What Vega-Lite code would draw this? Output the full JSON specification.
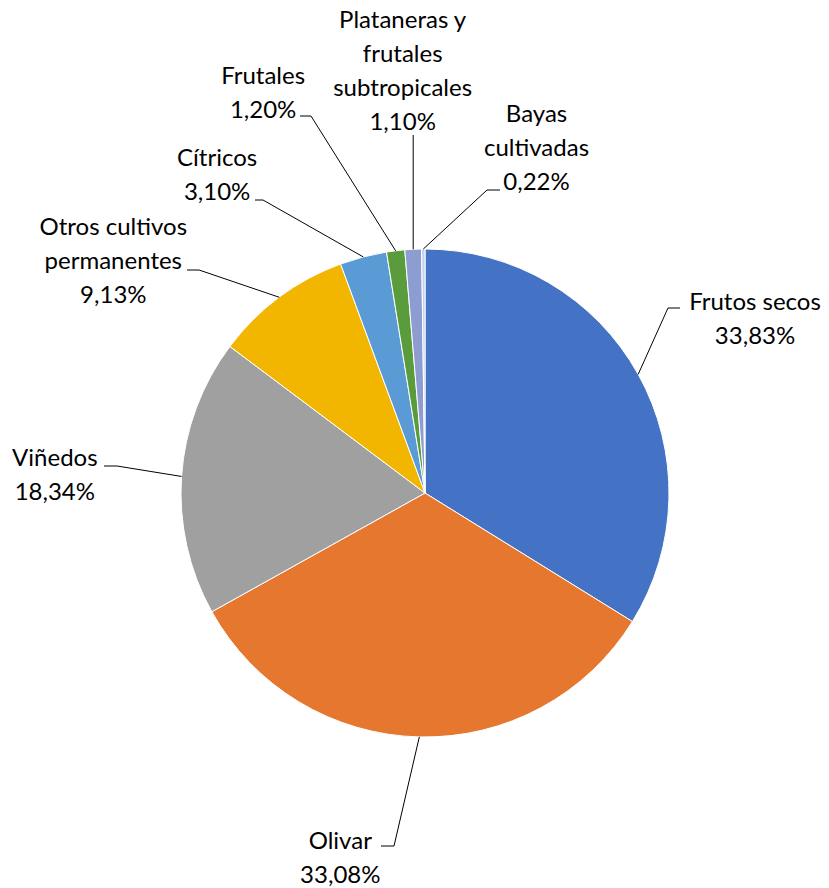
{
  "$schema": "https://vega.github.io/schema/vega-lite/v6.json",
  "width": 808,
  "height": 790,
  "autosize": "none",
  "padding": {"left": 21, "top": 98, "right": 0, "bottom": 0},
  "background": "white",
  "data": {
    "values": [
      {"cat": "Frutos secos", "value": 33.83, "label": "Frutos secos\n33,83%"},
      {"cat": "Olivar", "value": 33.08, "label": "Olivar\n33,08%"},
      {"cat": "Viñedos", "value": 18.34, "label": "Viñedos\n18,34%"},
      {"cat": "Otros cultivos permanentes", "value": 9.13, "label": "Otros cultivos\npermanentes\n9,13%"},
      {"cat": "Cítricos", "value": 3.10, "label": "Cítricos\n3,10%"},
      {"cat": "Frutales", "value": 1.20, "label": "Frutales\n1,20%"},
      {"cat": "Plataneras y frutales subtropicales", "value": 1.10, "label": "Plataneras y\nfrutales\nsubtropicales\n1,10%"},
      {"cat": "Bayas cultivadas", "value": 0.22, "label": "Bayas\ncultivadas\n0,22%"}
    ]
  },
  "transform": [{"stack": "value", "groupby": [], "as": ["v0", "v1"]}],
  "layer": [
    {
      "mark": {"type": "arc", "radius": 244, "stroke": "white", "strokeWidth": 1},
      "encoding": {
        "theta": {"field": "v0", "type": "quantitative", "scale": {"domain": [0, 100]}},
        "theta2": {"field": "v1"},
        "color": {
          "field": "cat", "type": "nominal", "legend": null,
          "scale": {
            "domain": ["Frutos secos", "Olivar", "Viñedos", "Otros cultivos permanentes", "Cítricos", "Frutales", "Plataneras y frutales subtropicales", "Bayas cultivadas"],
            "range": ["#4472C4", "#E6772E", "#A0A0A0", "#F2B600", "#5B9BD5", "#5A9B3C", "#8D9DD1", "#C5D0EC"]
          }
        }
      }
    },
    {
      "transform": [{"filter": "datum.cat == 'Frutos secos'"}],
      "layer": [
        {"mark": {"type": "text", "font": "Lato", "fontSize": 24, "color": "black", "align": "center", "baseline": "middle", "lineBreak": "\n", "lineHeight": 34, "x": {"expr": "width/2"}, "y": {"expr": "height/2"}, "theta": {"expr": "PI*(datum.v0+datum.v1)/100"}, "radius": 364, "dx": 12, "dy": -13},
         "encoding": {"text": {"field": "label"}}},
        {"mark": {"type": "rule", "color": "black", "strokeWidth": 1},
         "encoding": {"x": {"value": {"expr": "width/2 + 244*sin(PI*(datum.v0+datum.v1)/100)"}}, "y": {"value": {"expr": "height/2 - 244*cos(PI*(datum.v0+datum.v1)/100)"}}, "x2": {"value": {"expr": "width/2 + 243"}}, "y2": {"value": {"expr": "height/2 - 185"}}}},
        {"mark": {"type": "rule", "color": "black", "strokeWidth": 1},
         "encoding": {"x": {"value": {"expr": "width/2 + 243"}}, "y": {"value": {"expr": "height/2 - 185"}}, "x2": {"value": {"expr": "width/2 + 255"}}, "y2": {"value": {"expr": "height/2 - 185"}}}}
      ]
    },
    {
      "transform": [{"filter": "datum.cat == 'Olivar'"}],
      "layer": [
        {"mark": {"type": "text", "font": "Lato", "fontSize": 24, "color": "black", "align": "center", "baseline": "middle", "lineBreak": "\n", "lineHeight": 34, "x": {"expr": "width/2"}, "y": {"expr": "height/2"}, "theta": {"expr": "PI*(datum.v0+datum.v1)/100"}, "radius": 375, "dx": -76, "dy": -26},
         "encoding": {"text": {"field": "label"}}},
        {"mark": {"type": "rule", "color": "black", "strokeWidth": 1},
         "encoding": {"x": {"value": {"expr": "width/2 + 244*sin(PI*(datum.v0+datum.v1)/100)"}}, "y": {"value": {"expr": "height/2 - 244*cos(PI*(datum.v0+datum.v1)/100)"}}, "x2": {"value": {"expr": "width/2 - 31"}}, "y2": {"value": {"expr": "height/2 + 353"}}}},
        {"mark": {"type": "rule", "color": "black", "strokeWidth": 1},
         "encoding": {"x": {"value": {"expr": "width/2 - 31"}}, "y": {"value": {"expr": "height/2 + 353"}}, "x2": {"value": {"expr": "width/2 - 44"}}, "y2": {"value": {"expr": "height/2 + 353"}}}}
      ]
    },
    {
      "transform": [{"filter": "datum.cat == 'Viñedos'"}],
      "layer": [
        {"mark": {"type": "text", "font": "Lato", "fontSize": 24, "color": "black", "align": "center", "baseline": "middle", "lineBreak": "\n", "lineHeight": 34, "x": {"expr": "width/2"}, "y": {"expr": "height/2"}, "theta": {"expr": "PI*(datum.v0+datum.v1)/100"}, "radius": 370, "dx": -1, "dy": -9},
         "encoding": {"text": {"field": "label"}}},
        {"mark": {"type": "rule", "color": "black", "strokeWidth": 1},
         "encoding": {"x": {"value": {"expr": "width/2 + 244*sin(PI*(datum.v0+datum.v1)/100)"}}, "y": {"value": {"expr": "height/2 - 244*cos(PI*(datum.v0+datum.v1)/100)"}}, "x2": {"value": {"expr": "width/2 - 308"}}, "y2": {"value": {"expr": "height/2 - 27"}}}},
        {"mark": {"type": "rule", "color": "black", "strokeWidth": 1},
         "encoding": {"x": {"value": {"expr": "width/2 - 308"}}, "y": {"value": {"expr": "height/2 - 27"}}, "x2": {"value": {"expr": "width/2 - 321"}}, "y2": {"value": {"expr": "height/2 - 27"}}}}
      ]
    },
    {
      "transform": [{"filter": "datum.cat == 'Otros cultivos permanentes'"}],
      "layer": [
        {"mark": {"type": "text", "font": "Lato", "fontSize": 24, "color": "black", "align": "center", "baseline": "middle", "lineBreak": "\n", "lineHeight": 34, "x": {"expr": "width/2"}, "y": {"expr": "height/2"}, "theta": {"expr": "PI*(datum.v0+datum.v1)/100"}, "radius": 388, "dx": -80, "dy": 46},
         "encoding": {"text": {"field": "label"}}},
        {"mark": {"type": "rule", "color": "black", "strokeWidth": 1},
         "encoding": {"x": {"value": {"expr": "width/2 + 244*sin(PI*(datum.v0+datum.v1)/100)"}}, "y": {"value": {"expr": "height/2 - 244*cos(PI*(datum.v0+datum.v1)/100)"}}, "x2": {"value": {"expr": "width/2 - 226"}}, "y2": {"value": {"expr": "height/2 - 223"}}}},
        {"mark": {"type": "rule", "color": "black", "strokeWidth": 1},
         "encoding": {"x": {"value": {"expr": "width/2 - 226"}}, "y": {"value": {"expr": "height/2 - 223"}}, "x2": {"value": {"expr": "width/2 - 238"}}, "y2": {"value": {"expr": "height/2 - 223"}}}}
      ]
    },
    {
      "transform": [{"filter": "datum.cat == 'Cítricos'"}],
      "layer": [
        {"mark": {"type": "text", "font": "Lato", "fontSize": 24, "color": "black", "align": "center", "baseline": "middle", "lineBreak": "\n", "lineHeight": 34, "x": {"expr": "width/2"}, "y": {"expr": "height/2"}, "theta": {"expr": "PI*(datum.v0+datum.v1)/100"}, "radius": 379, "dx": -112, "dy": 33},
         "encoding": {"text": {"field": "label"}}},
        {"mark": {"type": "rule", "color": "black", "strokeWidth": 1},
         "encoding": {"x": {"value": {"expr": "width/2 + 244*sin(PI*(datum.v0+datum.v1)/100)"}}, "y": {"value": {"expr": "height/2 - 244*cos(PI*(datum.v0+datum.v1)/100)"}}, "x2": {"value": {"expr": "width/2 - 162"}}, "y2": {"value": {"expr": "height/2 - 293"}}}},
        {"mark": {"type": "rule", "color": "black", "strokeWidth": 1},
         "encoding": {"x": {"value": {"expr": "width/2 - 162"}}, "y": {"value": {"expr": "height/2 - 293"}}, "x2": {"value": {"expr": "width/2 - 170"}}, "y2": {"value": {"expr": "height/2 - 293"}}}}
      ]
    },
    {
      "transform": [{"filter": "datum.cat == 'Frutales'"}],
      "layer": [
        {"mark": {"type": "text", "font": "Lato", "fontSize": 24, "color": "black", "align": "center", "baseline": "middle", "lineBreak": "\n", "lineHeight": 34, "x": {"expr": "width/2"}, "y": {"expr": "height/2"}, "theta": {"expr": "PI*(datum.v0+datum.v1)/100"}, "radius": 431, "dx": -110, "dy": 12},
         "encoding": {"text": {"field": "label"}}},
        {"mark": {"type": "rule", "color": "black", "strokeWidth": 1},
         "encoding": {"x": {"value": {"expr": "width/2 + 244*sin(PI*(datum.v0+datum.v1)/100)"}}, "y": {"value": {"expr": "height/2 - 244*cos(PI*(datum.v0+datum.v1)/100)"}}, "x2": {"value": {"expr": "width/2 - 114"}}, "y2": {"value": {"expr": "height/2 - 377"}}}},
        {"mark": {"type": "rule", "color": "black", "strokeWidth": 1},
         "encoding": {"x": {"value": {"expr": "width/2 - 114"}}, "y": {"value": {"expr": "height/2 - 377"}}, "x2": {"value": {"expr": "width/2 - 125"}}, "y2": {"value": {"expr": "height/2 - 377"}}}}
      ]
    },
    {
      "transform": [{"filter": "datum.cat == 'Plataneras y frutales subtropicales'"}],
      "layer": [
        {"mark": {"type": "text", "font": "Lato", "fontSize": 24, "color": "black", "align": "center", "baseline": "middle", "lineBreak": "\n", "lineHeight": 34, "x": {"expr": "width/2"}, "y": {"expr": "height/2"}, "theta": {"expr": "PI*(datum.v0+datum.v1)/100"}, "radius": 421, "dx": -2, "dy": -51},
         "encoding": {"text": {"field": "label"}}},
        {"mark": {"type": "rule", "color": "black", "strokeWidth": 1},
         "encoding": {"x": {"value": {"expr": "width/2 + 244*sin(PI*(datum.v0+datum.v1)/100)"}}, "y": {"value": {"expr": "height/2 - 244*cos(PI*(datum.v0+datum.v1)/100)"}}, "x2": {"value": {"expr": "width/2 + 244*sin(PI*(datum.v0+datum.v1)/100)"}}, "y2": {"value": {"expr": "height/2 - 358"}}}}
      ]
    },
    {
      "transform": [{"filter": "datum.cat == 'Bayas cultivadas'"}],
      "layer": [
        {"mark": {"type": "text", "font": "Lato", "fontSize": 24, "color": "black", "align": "center", "baseline": "middle", "lineBreak": "\n", "lineHeight": 34, "x": {"expr": "width/2"}, "y": {"expr": "height/2"}, "theta": {"expr": "PI*(datum.v0+datum.v1)/100"}, "radius": 361, "dx": 114, "dy": -17},
         "encoding": {"text": {"field": "label"}}},
        {"mark": {"type": "rule", "color": "black", "strokeWidth": 1},
         "encoding": {"x": {"value": {"expr": "width/2 + 244*sin(PI*(datum.v0+datum.v1)/100)"}}, "y": {"value": {"expr": "height/2 - 244*cos(PI*(datum.v0+datum.v1)/100)"}}, "x2": {"value": {"expr": "width/2 + 62"}}, "y2": {"value": {"expr": "height/2 - 303"}}}},
        {"mark": {"type": "rule", "color": "black", "strokeWidth": 1},
         "encoding": {"x": {"value": {"expr": "width/2 + 62"}}, "y": {"value": {"expr": "height/2 - 303"}}, "x2": {"value": {"expr": "width/2 + 75"}}, "y2": {"value": {"expr": "height/2 - 303"}}}}
      ]
    }
  ],
  "config": {"view": {"stroke": null}}
}
